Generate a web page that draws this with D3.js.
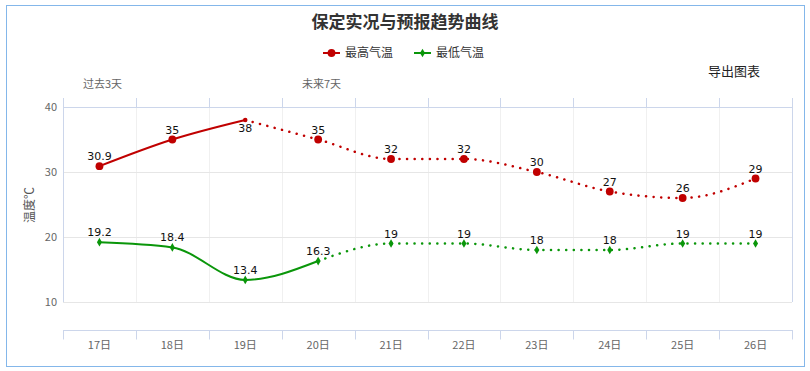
<!DOCTYPE html>
<html>
<head>
<meta charset="utf-8">
<script src="https://cdn.jsdelivr.net/npm/d3@7"></script>
<style>
  body { margin: 0; background: #fff; }
  svg { font-family: "Noto Sans CJK SC", "DejaVu Sans", sans-serif; }
</style>
</head>
<body>
<svg id="chart" width="810" height="371"></svg>
<script>
// chart data
const days = ['17日', '18日', '19日', '20日', '21日', '22日', '23日', '24日', '25日', '26日'];
const highTemps = [30.9, 35, 38, 35, 32, 32, 30, 27, 26, 29];
const lowTemps = [19.2, 18.4, 13.4, 16.3, 19, 19, 18, 18, 19, 19];
const highObserved = 3;   // points drawn solid (past), rest is forecast
const lowObserved = 4;
const yTicks = [10, 20, 30, 40];

const svg = d3.select('#chart');
const W = 810, H = 371;
const plot = { left: 63, right: 792, top: 107, bottom: 302 };

// outer frame
svg.append('rect')
  .attr('x', 6.5).attr('y', 5.5)
  .attr('width', 798).attr('height', 361)
  .attr('fill', 'none')
  .attr('stroke', '#84b7ea');

// title
svg.append('text')
  .attr('x', W / 2).attr('y', 28)
  .attr('text-anchor', 'middle')
  .style('font-size', '17px')
  .style('font-weight', 'bold')
  .style('fill', '#333')
  .text('保定实况与预报趋势曲线');

const x = d3.scaleBand().domain(days).range([plot.left, plot.right]).padding(0);
const cx = d => x(d) + x.bandwidth() / 2;
const y = d3.scaleLinear().domain([10, 40]).range([plot.bottom, plot.top]);

// grid
const grid = svg.append('g');
grid.selectAll('.vgrid')
  .data(days.slice(1))
  .enter().append('line')
  .attr('x1', d => Math.round(x(d)) + 0.5).attr('x2', d => Math.round(x(d)) + 0.5)
  .attr('y1', plot.top).attr('y2', plot.bottom)
  .attr('stroke', '#f0f0f0');
grid.selectAll('.hgrid')
  .data(yTicks)
  .enter().append('line')
  .attr('x1', plot.left).attr('x2', plot.right)
  .attr('y1', d => Math.round(y(d)) + 0.5).attr('y2', d => Math.round(y(d)) + 0.5)
  .attr('stroke', '#e6e6e6');

// boundaries for the category ticks
const bounds = days.map(d => x(d)).concat([plot.right]).map(v => Math.round(v) + 0.5);
const axisColor = '#ccd6eb';

// top axis
svg.append('line')
  .attr('x1', plot.left).attr('x2', plot.right + 1)
  .attr('y1', plot.top + 0.5).attr('y2', plot.top + 0.5)
  .attr('stroke', axisColor);
svg.selectAll('.ttick')
  .data(bounds)
  .enter().append('line')
  .attr('x1', d => d).attr('x2', d => d)
  .attr('y1', plot.top - 9).attr('y2', plot.top)
  .attr('stroke', axisColor);

// left/right edges
[bounds[0], bounds[bounds.length - 1]].forEach(v => {
  svg.append('line')
    .attr('x1', v).attr('x2', v)
    .attr('y1', plot.top).attr('y2', plot.bottom)
    .attr('stroke', axisColor);
});

// bottom axis
const axisY = 330.5;
svg.append('line')
  .attr('x1', plot.left).attr('x2', plot.right + 1)
  .attr('y1', axisY).attr('y2', axisY)
  .attr('stroke', axisColor);
svg.selectAll('.btick')
  .data(bounds)
  .enter().append('line')
  .attr('x1', d => d).attr('x2', d => d)
  .attr('y1', axisY).attr('y2', axisY + 9)
  .attr('stroke', axisColor);
svg.selectAll('.xlabel')
  .data(days)
  .enter().append('text')
  .attr('x', d => cx(d))
  .attr('y', 349)
  .attr('text-anchor', 'middle')
  .style('font-size', '11px')
  .style('fill', '#666')
  .text(d => d);

// y labels
svg.selectAll('.ylabel')
  .data(yTicks)
  .enter().append('text')
  .attr('x', 57)
  .attr('y', d => y(d) + 4)
  .attr('text-anchor', 'end')
  .style('font-size', '11px')
  .style('fill', '#666')
  .text(d => d);

svg.append('text')
  .attr('transform', 'translate(34,205) rotate(-90)')
  .attr('text-anchor', 'middle')
  .style('font-size', '12px')
  .style('fill', '#555')
  .text('温度℃');

// period notes
svg.append('text').attr('x', 83).attr('y', 88)
  .style('font-size', '11px').style('fill', '#666').text('过去3天');
svg.append('text').attr('x', 302).attr('y', 88)
  .style('font-size', '11px').style('fill', '#666').text('未来7天');

// export button text
svg.append('text').attr('x', 708).attr('y', 76)
  .style('font-size', '13px').style('fill', '#222').text('导出图表');

// series
const line = d3.line()
  .x(d => cx(d.day))
  .y(d => y(d.v))
  .curve(d3.curveMonotoneX);

function drawSeries(values, observed, color, symbol, joinSymbol) {
  const pts = values.map((v, i) => ({ day: days[i], v }));
  const g = svg.append('g');
  g.append('path')
    .attr('d', line(pts.slice(0, observed)))
    .attr('fill', 'none')
    .attr('stroke', color)
    .attr('stroke-width', 2);
  g.append('path')
    .attr('d', line(pts.slice(observed - 1)))
    .attr('fill', 'none')
    .attr('stroke', color)
    .attr('stroke-width', 2.5)
    .attr('stroke-linecap', 'round')
    .attr('stroke-dasharray', '0.1 7.5');
  g.selectAll('.marker')
    .data(pts)
    .enter().append('path')
    .attr('transform', d => `translate(${cx(d.day)},${y(d.v)})`)
    .attr('d', (d, i) => (i === observed - 1 && joinSymbol) ? joinSymbol : symbol)
    .attr('fill', color);
  g.selectAll('.dlabel')
    .data(pts)
    .enter().append('text')
    .attr('x', d => cx(d.day))
    .attr('y', d => {
      const above = y(d.v) - 6;
      return above - 9 < plot.top ? y(d.v) + 12 : above;
    })
    .attr('text-anchor', 'middle')
    .style('font-family', '"DejaVu Sans", sans-serif')
    .style('font-size', '11px')
    .style('fill', '#111')
    .text(d => d.v);
}

const circle = d3.symbol(d3.symbolCircle, 48)();
const smallCircle = d3.symbol(d3.symbolCircle, 16)();
const diamond = d3.symbol(d3.symbolDiamond, 22)();
drawSeries(highTemps, highObserved, '#c00000', circle, smallCircle);
drawSeries(lowTemps, lowObserved, '#0a960a', diamond, null);

// legend
const legendItems = [
  { name: '最高气温', color: '#c00000', symbol: circle, x: 323 },
  { name: '最低气温', color: '#0a960a', symbol: diamond, x: 414 }
];
const lg = svg.selectAll('.legend')
  .data(legendItems)
  .enter().append('g')
  .attr('transform', d => `translate(${d.x},53)`);
lg.append('line')
  .attr('x1', 0).attr('x2', 17)
  .attr('stroke', d => d.color)
  .attr('stroke-width', 2);
lg.append('path')
  .attr('transform', 'translate(8.5,0)')
  .attr('d', d => d.symbol)
  .attr('fill', d => d.color);
lg.append('text')
  .attr('x', 22).attr('y', 4)
  .style('font-size', '12px')
  .style('fill', '#333')
  .text(d => d.name);
</script>
</body>
</html>
